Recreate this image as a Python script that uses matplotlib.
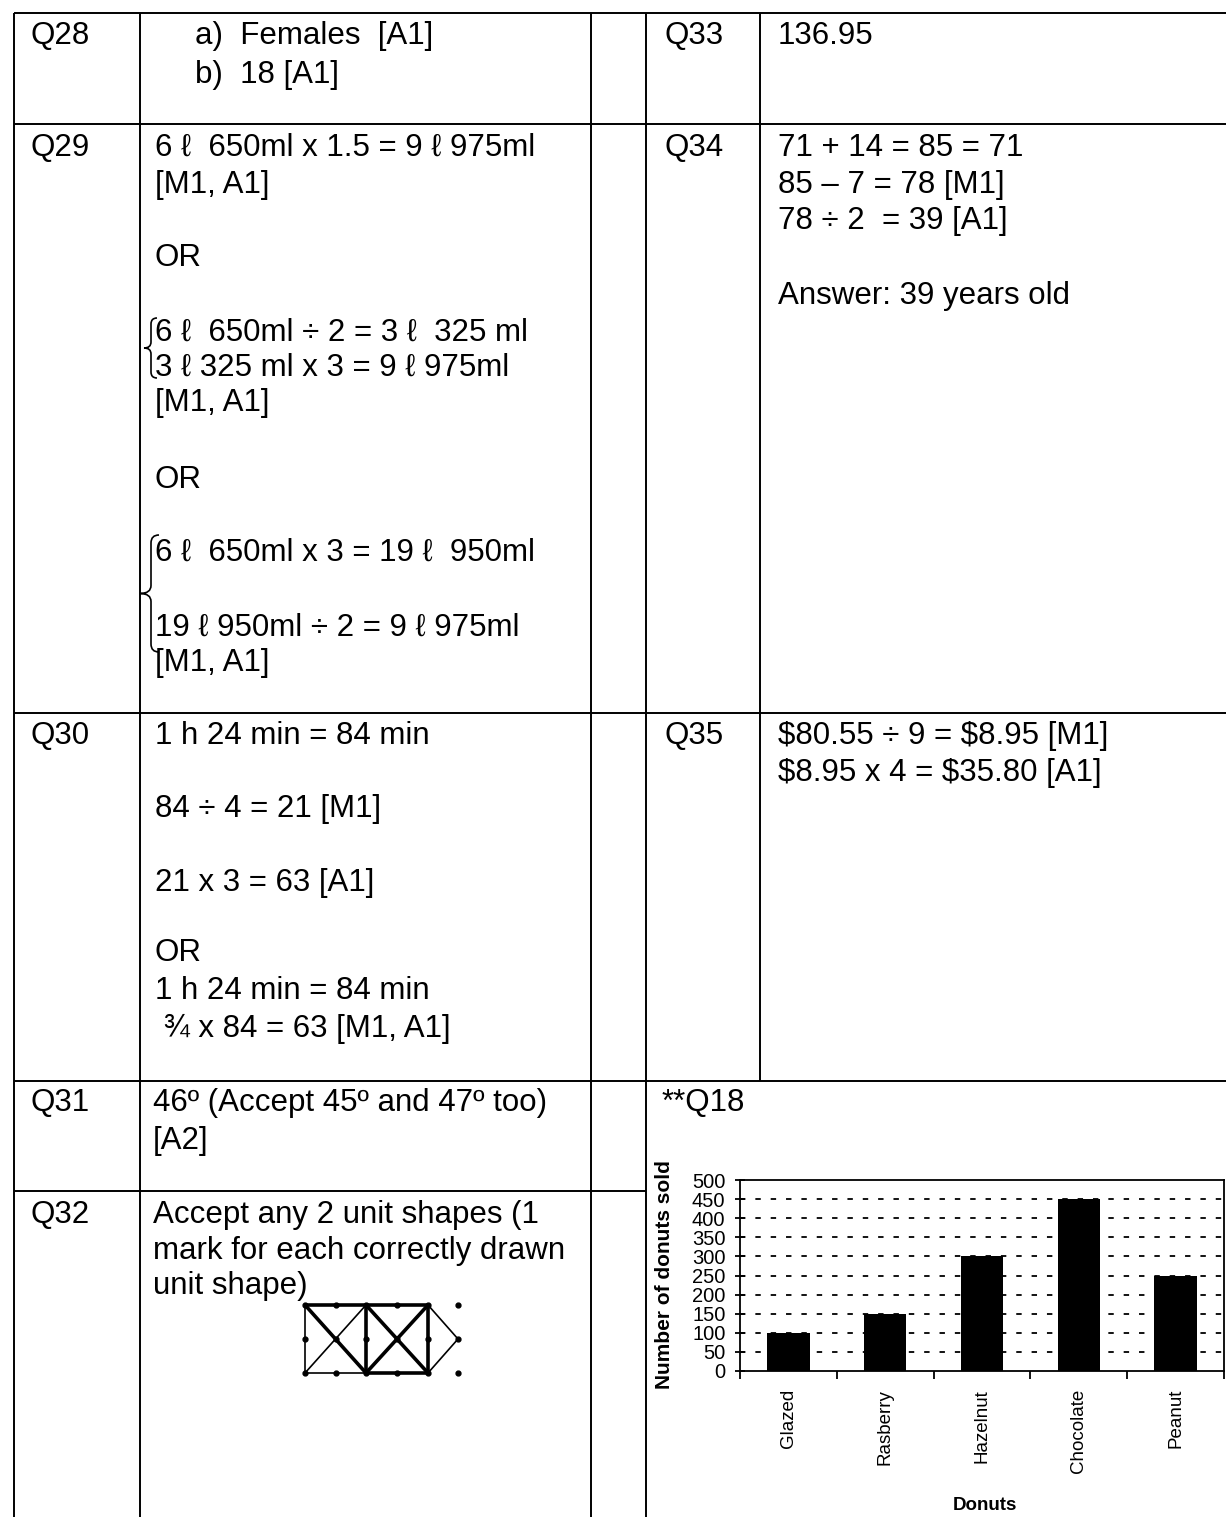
import matplotlib
matplotlib.use("Agg")
from matplotlib import pyplot as plt
from matplotlib.path import Path
from matplotlib.patches import PathPatch

plt.rcParams['font.family'] = ['Liberation Sans', 'DejaVu Sans']

# chart data (Q18)
donuts = ['Glazed', 'Rasberry', 'Hazelnut', 'Chocolate', 'Peanut']
sold = [100, 150, 300, 450, 250]
y_ticks = list(range(0, 501, 50))

# question labels
q_left = ['Q28', 'Q29', 'Q30', 'Q31', 'Q32']
q_right = ['Q33', 'Q34', 'Q35', '**Q18']

# answer texts
q28_txt = ['a)  Females  [A1]', 'b)  18 [A1]']
q29_txt = ['6 ℓ  650ml x 1.5 = 9 ℓ 975ml', '[M1, A1]', 'OR',
           '6 ℓ  650ml ÷ 2 = 3 ℓ  325 ml', '3 ℓ 325 ml x 3 = 9 ℓ 975ml', '[M1, A1]',
           'OR', '6 ℓ  650ml x 3 = 19 ℓ  950ml', '19 ℓ 950ml ÷ 2 = 9 ℓ 975ml', '[M1, A1]']
q30_txt = ['1 h 24 min = 84 min', '84 ÷ 4 = 21 [M1]', '21 x 3 = 63 [A1]', 'OR',
           '1 h 24 min = 84 min', ' ¾ x 84 = 63 [M1, A1]']
q31_txt = ['46º (Accept 45º and 47º too)', '[A2]']
q32_txt = ['Accept any 2 unit shapes (1', 'mark for each correctly drawn', 'unit shape)']
q33_txt = ['136.95']
q34_txt = ['71 + 14 = 85 = 71', '85 – 7 = 78 [M1]', '78 ÷ 2  = 39 [A1]', '', 'Answer: 39 years old']
q35_txt = ['$80.55 ÷ 9 = $8.95 [M1]', '$8.95 x 4 = $35.80 [A1]']

W, H = 1226, 1517
fig = plt.figure(figsize=(W / 100, H / 100), dpi=100)
bg = fig.add_axes([0, 0, 1, 1])
bg.set_xlim(0, W)
bg.set_ylim(H, 0)
bg.axis('off')


def line(x0, y0, x1, y1, lw=1.4):
    bg.plot([x0, x1], [y0, y1], color='black', lw=lw, solid_capstyle='butt')


def put(x, y, s, size=22.5):
    # y is the middle of the capitals
    bg.text(x, y + 11, s, fontsize=size, va='baseline', ha='left', parse_math=False)


def brace(xb, xt, top, bot, h=6):
    mid = (top + bot) / 2
    verts = [(xb + h, top), (xb, top), (xb, top + h),
             (xb, mid - h), (xb, mid), (xt, mid),
             (xb, mid), (xb, mid + h),
             (xb, bot - h), (xb, bot), (xb + h, bot)]
    codes = [Path.MOVETO, Path.CURVE3, Path.CURVE3,
             Path.LINETO, Path.CURVE3, Path.CURVE3,
             Path.CURVE3, Path.CURVE3,
             Path.LINETO, Path.CURVE3, Path.CURVE3]
    bg.add_patch(PathPatch(Path(verts, codes), fill=False, lw=1.2, color='black'))


# table grid
for x in [14, 140, 591, 646]:
    line(x, 13, x, H)
line(760, 13, 760, 1081)
for y in [13, 124, 713, 1081]:
    line(14, y, W, y)
line(14, 1191, 646, 1191)

# question numbers
for s, y in zip(q_left, [33, 145, 733, 1100, 1212]):
    put(30, y, s)
for s, x, y in zip(q_right, [665, 665, 665, 662], [33, 145, 733, 1100]):
    put(x, y, s)

# answers
for s, y in zip(q28_txt, [33, 72]):
    put(195, y, s)
for s, y in zip(q29_txt, [145, 182, 255, 330, 365, 400, 477, 550, 625, 660]):
    put(155, y, s)
for s, y in zip(q30_txt, [733, 806, 880, 950, 988, 1026]):
    put(155, y, s)
for s, y in zip(q31_txt, [1100, 1138]):
    put(153, y, s)
for s, y in zip(q32_txt, [1212, 1248, 1283]):
    put(153, y, s)
for s, y in zip(q33_txt, [33]):
    put(778, y, s)
for s, y in zip(q34_txt, [145, 182, 218, 255, 293]):
    put(778, y, s)
for s, y in zip(q35_txt, [733, 770]):
    put(778, y, s)

brace(151, 144, 318, 378)
brace(151, 140, 535, 652, h=8)

# unit shape drawing for Q32
a, b, c, d = 305, 366, 428, 458
t, m, bt = 1305, 1339, 1373
thin, bold = 1.2, 2.6
line(a, t, c, t, bold)
line(a, t, a, bt, thin)
line(a, bt, b, bt, thin)
line(b, bt, c, bt, bold)
line(b, t, b, bt, bold)
line(c, t, c, bt, bold)
line(a, t, b, bt, bold)
line(b, t, a, bt, thin)
line(b, t, c, bt, bold)
line(c, t, b, bt, bold)
line(c, t, d, m, thin)
line(d, m, c, bt, thin)
for gx in [a, 336, b, 397, c, d]:
    for gy in [t, m, bt]:
        bg.plot(gx, gy, 'o', color='black', ms=3.5)

# Q18 bar chart
ax = fig.add_axes([740 / W, 1 - 1371 / H, 484 / W, 191 / H])
pos = list(range(len(donuts)))
ax.bar(pos, sold, width=0.44, color='black', zorder=3)
ax.set_xlim(-0.5, len(donuts) - 0.5)
ax.set_ylim(0, 500)
for v in y_ticks[1:-1]:
    ax.axhline(v, color='black', lw=1.3, ls=(0, (3, 5.5)), zorder=1)
ax.set_yticks(y_ticks)
ax.set_yticklabels([str(v) for v in y_ticks], fontsize=14.5)
ax.set_xticks([i - 0.5 for i in range(len(donuts) + 1)])
ax.set_xticklabels([])
ax.set_xticks(pos, minor=True)
ax.set_xticklabels(donuts, minor=True, rotation=90, fontsize=13.5)
ax.tick_params(axis='x', which='minor', length=0, pad=13)
ax.tick_params(axis='x', which='major', length=6, width=1.3, direction='out')
ax.tick_params(axis='y', length=7, width=1.3, direction='inout', pad=7)
for sp in ax.spines.values():
    sp.set_linewidth(1.3)

bg.text(664, 1275, 'Number of donuts sold', rotation=90, ha='center', va='center',
        fontsize=15, fontweight='bold')
bg.text(985, 1505, 'Donuts', ha='center', va='center', fontsize=13.5, fontweight='bold')

fig.savefig('out.png', dpi=100)
